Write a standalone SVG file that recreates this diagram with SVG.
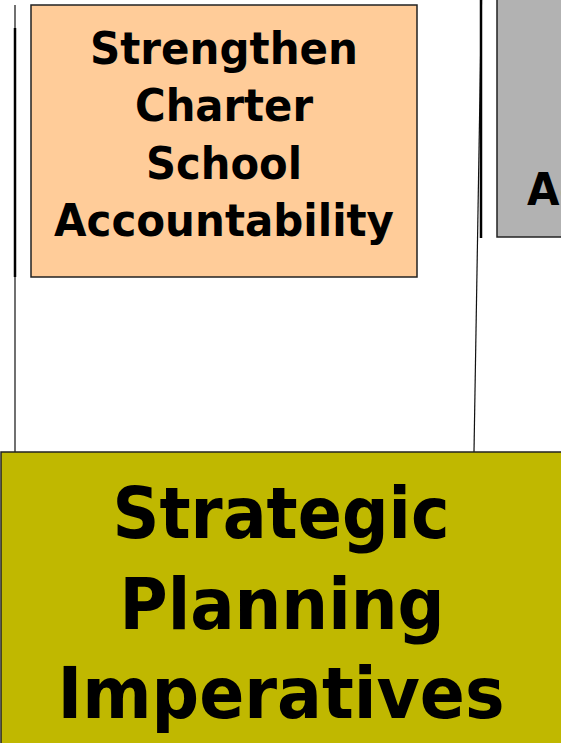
<svg xmlns="http://www.w3.org/2000/svg" width="561" height="743" viewBox="0 0 561 743">
<style>
.box{stroke:#222;stroke-width:1.5}
.t{font-family:"DejaVu Sans","Verdana",sans-serif;font-weight:bold;fill:#000;text-anchor:middle}
.s{font-size:44px}
.b{font-size:72px}
.thin{stroke:#111;stroke-width:1.2;fill:none}
.thick{stroke:#000;stroke-width:2.5;fill:none}
</style>
<rect width="561" height="743" fill="#fff"/>
<g id="connectors">
<line class="thin" x1="15" y1="5" x2="15" y2="452"/>
<line class="thick" x1="15" y1="28" x2="15" y2="277"/>
<line class="thin" x1="481.5" y1="0" x2="474" y2="452"/>
<line class="thick" x1="481" y1="0" x2="481" y2="238"/>
</g>
<g id="node-charter">
<rect class="box" x="31" y="5" width="386" height="272" fill="#ffcc99"/>
<text class="t s" x="224" y="64" textLength="268" lengthAdjust="spacingAndGlyphs">Strengthen</text>
<text class="t s" x="224" y="121" textLength="178" lengthAdjust="spacingAndGlyphs">Charter</text>
<text class="t s" x="224" y="179" textLength="156" lengthAdjust="spacingAndGlyphs">School</text>
<text class="t s" x="224" y="236" textLength="340" lengthAdjust="spacingAndGlyphs">Accountability</text>
</g>
<g id="node-grey">
<rect class="box" x="497" y="-5" width="80" height="242" fill="#b2b2b2"/>
<text class="t s" x="527" y="205" style="text-anchor:start" textLength="340" lengthAdjust="spacingAndGlyphs">Accountability</text>
</g>
<g id="node-imperatives">
<rect class="box" x="1" y="452" width="562" height="296" fill="#c0b800"/>
<text class="t b" x="281" y="538" textLength="337" lengthAdjust="spacingAndGlyphs">Strategic</text>
<text class="t b" x="282" y="629" textLength="325" lengthAdjust="spacingAndGlyphs">Planning</text>
<text class="t b" x="281" y="718" textLength="447" lengthAdjust="spacingAndGlyphs">Imperatives</text>
</g>
</svg>
